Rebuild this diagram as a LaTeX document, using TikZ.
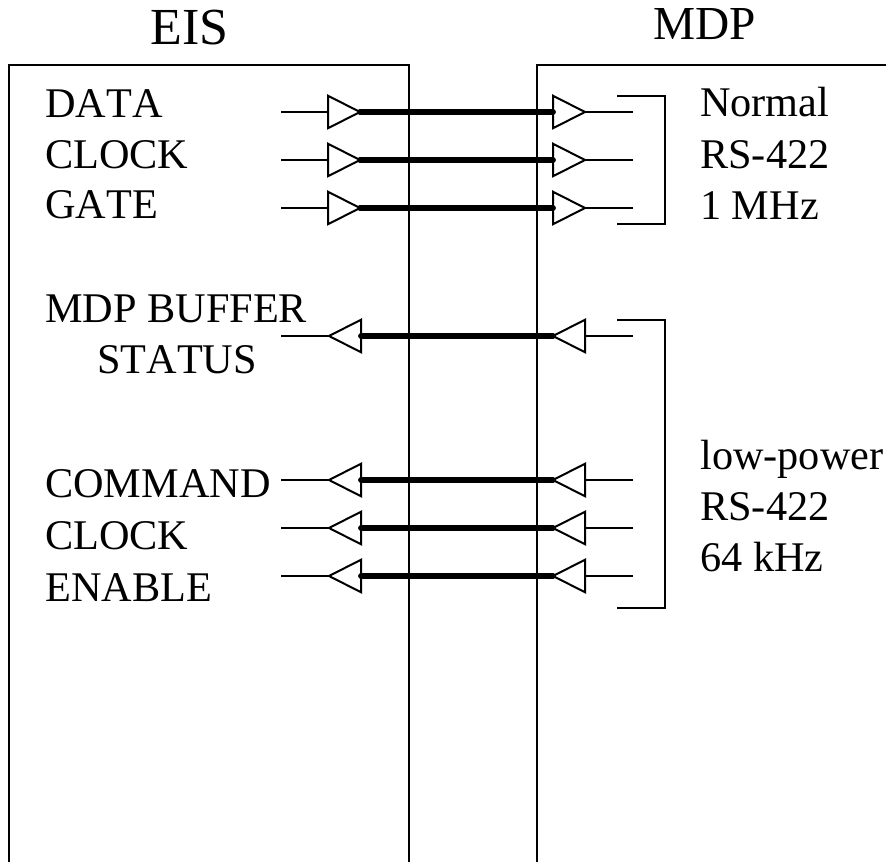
\documentclass[tikz,border=0pt]{standalone}
\usepackage{fontspec}
\setmainfont[Kerning=Off]{Liberation Serif}
\usepackage{tikz}
\usetikzlibrary{shapes.geometric}

\begin{document}
\begin{tikzpicture}[x=0.75pt, y=-0.75pt,
  wall/.style={line width=1.5pt},
  lead/.style={line width=1.5pt},
  bus/.style={line width=4.3pt, line cap=round},
  bracket/.style={line width=1.5pt},
  drv/.style={draw, fill=white, line width=1.5pt, isosceles triangle, isosceles triangle stretches, minimum width=32.5*0.75pt, minimum height=32*0.75pt, inner sep=0pt, outer sep=0pt, anchor=apex},
  rev/.style={drv, shape border rotate=180},
  label/.style={anchor=base west, inner sep=0pt, font=\fontsize{31.7pt}{34pt}\selectfont},
  ]
  \useasboundingbox (0,0) rectangle (886,862);

  % Unit outlines
  \coordinate (eisBL) at (9,862);
  \coordinate (eisTL) at (9,65);
  \coordinate (eisTR) at (409,65);
  \coordinate (eisBR) at (409,862);
  \coordinate (mdpBL) at (537,862);
  \coordinate (mdpTL) at (537,65);
  \coordinate (mdpTR) at (886,65);
  \draw[wall] (eisBL) -- (eisTL) -- (eisTR) -- (eisBR);
  \draw[wall] (mdpBL) -- (mdpTL) -- (mdpTR);

  % Titles
  \node[label, font=\fontsize{39pt}{42pt}\selectfont] (eisTitle) at (150,45) {EIS};
  \node[label, font=\fontsize{35.5pt}{38pt}\selectfont] (mdpTitle) at (653,40) {MDP};

  % Free ends of the wires
  \coordinate (dataIn) at (281,112);
  \coordinate (clockIn) at (281,160);
  \coordinate (gateIn) at (281,208);
  \coordinate (dataOut) at (633,112);
  \coordinate (clockOut) at (633,160);
  \coordinate (gateOut) at (633,208);
  \coordinate (statusIn) at (633,336);
  \coordinate (commandIn) at (633,480);
  \coordinate (cmdclockIn) at (633,528);
  \coordinate (enableIn) at (633,576);
  \coordinate (statusOut) at (281,336);
  \coordinate (commandOut) at (281,480);
  \coordinate (cmdclockOut) at (281,528);
  \coordinate (enableOut) at (281,576);

  % Drivers and receivers
  \node[drv] (dataTx) at (360,112) {};
  \node[drv] (clockTx) at (360,160) {};
  \node[drv] (gateTx) at (360,208) {};
  \node[drv] (dataRx) at (585,112) {};
  \node[drv] (clockRx) at (585,160) {};
  \node[drv] (gateRx) at (585,208) {};
  \node[rev] (statusTx) at (553,336) {};
  \node[rev] (commandTx) at (553,480) {};
  \node[rev] (cmdclockTx) at (553,528) {};
  \node[rev] (enableTx) at (553,576) {};
  \node[rev] (statusRx) at (329,336) {};
  \node[rev] (commandRx) at (329,480) {};
  \node[rev] (cmdclockRx) at (329,528) {};
  \node[rev] (enableRx) at (329,576) {};

  % Thin wires
  \draw[lead] (dataIn) -- (dataTx.lower side);
  \draw[lead] (clockIn) -- (clockTx.lower side);
  \draw[lead] (gateIn) -- (gateTx.lower side);
  \draw[lead] (dataRx.apex) -- (dataOut);
  \draw[lead] (clockRx.apex) -- (clockOut);
  \draw[lead] (gateRx.apex) -- (gateOut);
  \draw[lead] (statusIn) -- (statusTx.lower side);
  \draw[lead] (commandIn) -- (commandTx.lower side);
  \draw[lead] (cmdclockIn) -- (cmdclockTx.lower side);
  \draw[lead] (enableIn) -- (enableTx.lower side);
  \draw[lead] (statusRx.apex) -- (statusOut);
  \draw[lead] (commandRx.apex) -- (commandOut);
  \draw[lead] (cmdclockRx.apex) -- (cmdclockOut);
  \draw[lead] (enableRx.apex) -- (enableOut);

  % Heavy lines across the gap
  \draw[bus] (dataTx.apex) -- (dataRx.lower side);
  \draw[bus] (clockTx.apex) -- (clockRx.lower side);
  \draw[bus] (gateTx.apex) -- (gateRx.lower side);
  \draw[bus] (statusTx.apex) -- (statusRx.lower side);
  \draw[bus] (commandTx.apex) -- (commandRx.lower side);
  \draw[bus] (cmdclockTx.apex) -- (cmdclockRx.lower side);
  \draw[bus] (enableTx.apex) -- (enableRx.lower side);

  % Brackets
  \coordinate (fastA) at (617,96);
  \coordinate (fastB) at (665,96);
  \coordinate (fastC) at (665,224);
  \coordinate (fastD) at (617,224);
  \coordinate (slowA) at (617,320);
  \coordinate (slowB) at (665,320);
  \coordinate (slowC) at (665,608);
  \coordinate (slowD) at (617,608);
  \draw[bracket] (fastA) -- (fastB) -- (fastC) -- (fastD);
  \draw[bracket] (slowA) -- (slowB) -- (slowC) -- (slowD);

  % Signal names
  \node[label] (dataText) at (45,118) {DATA};
  \node[label] (clockText) at (45,169) {CLOCK};
  \node[label] (gateText) at (45,219) {GATE};
  \node[label] (bufferText) at (45,323) {MDP BUFFER};
  \node[label] (statusText) at (97,374) {STATUS};
  \node[label] (commandText) at (45,498) {COMMAND};
  \node[label] (cmdclockText) at (45,550) {CLOCK};
  \node[label] (enableText) at (45,602) {ENABLE};

  % Link notes
  \node[label] (fastNote1) at (700,117) {Normal};
  \node[label] (fastNote2) at (700,169) {RS-422};
  \node[label] (fastNote3) at (700,220) {1 MHz};
  \node[label] (slowNote1) at (700,470) {low-power};
  \node[label] (slowNote2) at (700,521) {RS-422};
  \node[label] (slowNote3) at (700,572) {64 kHz};
\end{tikzpicture}
\end{document}
